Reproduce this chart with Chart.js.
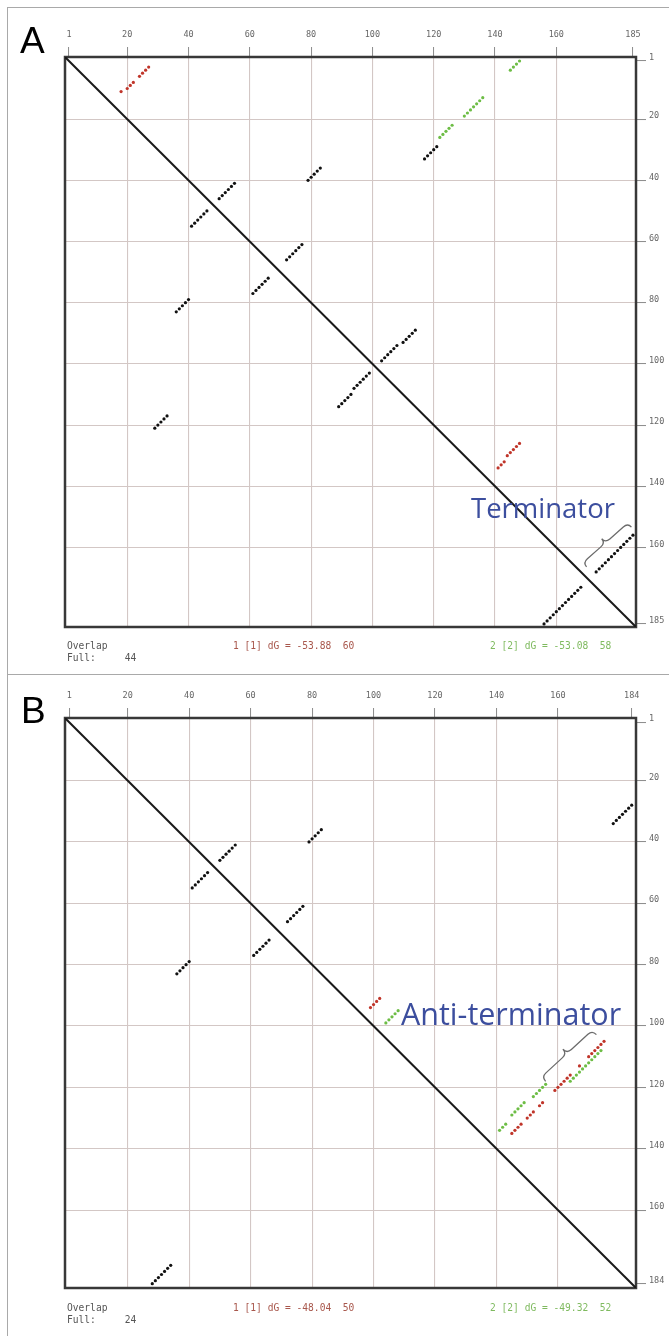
<!DOCTYPE html>
<html>
<head>
<meta charset="utf-8">
<script src="https://cdn.jsdelivr.net/npm/chart.js@4.4.1/dist/chart.umd.min.js"></script>
<style>
  body { margin: 0; background: #fff; }
  #page { position: relative; width: 669px; height: 1336px; overflow: hidden; background: #fff; }
  canvas { position: absolute; left: 0; }
  .rule { position: absolute; background: #a9a9a9; }
  .tag { position: absolute; font-family: 'Liberation Sans', Arial, sans-serif; font-size: 37px; line-height: 37px; color: #000; }
  .info { position: absolute; font-family: 'DejaVu Sans Mono', monospace; font-size: 9.6px; line-height: 12.3px; white-space: pre; color: #555; }
  .red { color: #a8574c; }
  .green { color: #7fba5f; }
  .note { position: absolute; font-family: 'Open Sans', sans-serif; color: #3c4e9e; line-height: 1; white-space: nowrap; }
  svg { position: absolute; left: 0; top: 0; }
</style>
</head>
<body>
<div id="page">
  <div class="rule" style="left:7px;top:7px;width:1px;height:1329px"></div>
  <div class="rule" style="left:7px;top:7px;width:662px;height:1px"></div>
  <div class="rule" style="left:7px;top:674px;width:662px;height:1px"></div>

  <canvas id="chartA" width="669" height="674" style="top:0"></canvas>
  <canvas id="chartB" width="669" height="662" style="top:674px"></canvas>

  <div class="tag" style="left:20px;top:22px">A</div>
  <div class="tag" style="left:21px;top:692px">B</div>

  <div class="info" style="left:67px;top:640px">Overlap
Full:     44</div>
  <div class="info red" style="left:233px;top:640px">1 [1] dG = -53.88  60</div>
  <div class="info green" style="left:490px;top:640px">2 [2] dG = -53.08  58</div>

  <div class="info" style="left:67px;top:1302px">Overlap
Full:     24</div>
  <div class="info red" style="left:233px;top:1302px">1 [1] dG = -48.04  50</div>
  <div class="info green" style="left:490px;top:1302px">2 [2] dG = -49.32  52</div>

  <div class="note" style="left:471px;top:494px;font-size:27.5px">Terminator</div>
  <div class="note" style="left:401px;top:998px;font-size:30.5px">Anti-terminator</div>

  <svg width="669" height="1336">
    <path id="braceA" fill="none" stroke="#6b6b6b" stroke-width="1.3"/>
    <path id="braceB" fill="none" stroke="#6b6b6b" stroke-width="1.3"/>
  </svg>
</div>

<script>
// tick labels
const ticksA = [1, 20, 40, 60, 80, 100, 120, 140, 160, 185];
const ticksB = [1, 20, 40, 60, 80, 100, 120, 140, 160, 184];

// axis ranges (sequence positions)
const rangeA = [-0.3, 186];
const rangeB = [-0.4, 185.4];

// panel A: [i, j] base pairs
const blackA = [
    [79, 40], [80, 39], [81, 38], [82, 37], [83, 36],
    [36, 83], [37, 82], [38, 81], [39, 80], [40, 79],
    [50, 46], [51, 45], [52, 44], [53, 43], [54, 42], [55, 41],
    [41, 55], [42, 54], [43, 53], [44, 52], [45, 51], [46, 50],
    [72, 66], [73, 65], [74, 64], [75, 63], [76, 62], [77, 61],
    [61, 77], [62, 76], [63, 75], [64, 74], [65, 73], [66, 72],
    [117, 33], [118, 32], [119, 31], [120, 30], [121, 29],
    [29, 121], [30, 120], [31, 119], [32, 118], [33, 117],
    [103, 99], [104, 98], [105, 97], [106, 96], [107, 95], [108, 94],
    [94, 108], [95, 107], [96, 106], [97, 105], [98, 104], [99, 103],
    [110, 93], [111, 92], [112, 91], [113, 90], [114, 89],
    [89, 114], [90, 113], [91, 112], [92, 111], [93, 110],
    [173, 168], [174, 167], [175, 166], [176, 165], [177, 164], [178, 163], [179, 162],
    [180, 161], [181, 160], [182, 159], [183, 158], [184, 157], [185, 156],
    [156, 185], [157, 184], [158, 183], [159, 182], [160, 181], [161, 180], [162, 179],
    [163, 178], [164, 177], [165, 176], [166, 175], [167, 174], [168, 173]
];
const redA = [
    [18, 11], [20, 10], [21, 9], [22, 8], [24, 6], [25, 5], [26, 4], [27, 3],
    [141, 134], [142, 133], [143, 132],
    [144, 130], [145, 129], [146, 128], [147, 127], [148, 126]
];
const greenA = [
    [122, 26], [123, 25], [124, 24], [125, 23], [126, 22],
    [130, 19], [131, 18], [132, 17], [133, 16], [134, 15], [135, 14], [136, 13],
    [145, 4], [146, 3], [147, 2], [148, 1]
];

// panel B
const blackB = [
    [79, 40], [80, 39], [81, 38], [82, 37], [83, 36],
    [36, 83], [37, 82], [38, 81], [39, 80], [40, 79],
    [50, 46], [51, 45], [52, 44], [53, 43], [54, 42], [55, 41],
    [41, 55], [42, 54], [43, 53], [44, 52], [45, 51], [46, 50],
    [72, 66], [73, 65], [74, 64], [75, 63], [76, 62], [77, 61],
    [61, 77], [62, 76], [63, 75], [64, 74], [65, 73], [66, 72],
    [178, 34], [179, 33], [180, 32], [181, 31], [182, 30], [183, 29], [184, 28],
    [28, 184], [29, 183], [30, 182], [31, 181], [32, 180], [33, 179], [34, 178]
];
const redB = [
    [99, 94], [100, 93], [101, 92], [102, 91],
    [145, 135], [146, 134], [147, 133], [148, 132],
    [150, 130], [151, 129], [152, 128],
    [154, 126], [155, 125],
    [159, 121], [160, 120], [161, 119], [162, 118], [163, 117], [164, 116],
    [167, 113],
    [170, 110], [171, 109], [172, 108], [173, 107], [174, 106], [175, 105]
];
const greenB = [
    [104, 99], [105, 98], [106, 97], [107, 96], [108, 95],
    [141, 134], [142, 133], [143, 132],
    [145, 129], [146, 128], [147, 127], [148, 126], [149, 125],
    [152, 123], [153, 122], [154, 121], [155, 120], [156, 119],
    [164, 118], [165, 117], [166, 116], [167, 115], [168, 114], [169, 113],
    [170, 112], [171, 111], [172, 110], [173, 109], [174, 108]
];

function pts(list) {
    return list.map(p => ({ x: p[0], y: p[1] }));
}

// kotak hitam di sekeliling area plot
const framePlugin = {
    id: 'frame',
    beforeDatasetsDraw(chart) {
        const { ctx, chartArea: a } = chart;
        ctx.save();
        ctx.strokeStyle = '#383838';
        ctx.lineWidth = 2.5;
        ctx.strokeRect(a.left, a.top, a.right - a.left, a.bottom - a.top);
        ctx.restore();
    }
};

function axis(ticks, range, extra) {
    const last = ticks[ticks.length - 1];
    return Object.assign({
        type: 'linear',
        min: range[0],
        max: range[1],
        afterBuildTicks: s => { s.ticks = ticks.map(v => ({ value: v })); },
        border: { display: false },
        grid: {
            color: c => (c.tick && (c.tick.value === 1 || c.tick.value === last)) ? 'rgba(0,0,0,0)' : '#d3c7c5',
            lineWidth: 1.1,
            tickLength: 10,
            tickColor: '#8a8a8a',
            tickWidth: 1
        },
        ticks: {
            autoSkip: false,
            maxRotation: 0,
            color: '#666',
            font: { family: 'DejaVu Sans Mono', size: 8.5 }
        }
    }, extra);
}

function buildChart(id, o) {
    const dot = { pointRadius: 1.6, borderWidth: 0, pointHoverRadius: 1.6 };
    return new Chart(document.getElementById(id), {
        type: 'scatter',
        data: {
            datasets: [
                Object.assign({ data: pts(o.black), backgroundColor: '#111' }, dot),
                Object.assign({ data: pts(o.red), backgroundColor: '#c0352a' }, dot),
                Object.assign({ data: pts(o.green), backgroundColor: '#6dbd45' }, dot),
                {
                    data: pts([[o.range[0], o.range[0]], [o.range[1], o.range[1]]]),
                    showLine: true,
                    borderColor: '#1a1a1a',
                    borderWidth: 2,
                    pointRadius: 0
                }
            ]
        },
        options: {
            responsive: false,
            animation: false,
            devicePixelRatio: 1,
            events: [],
            layout: { padding: { left: 65, right: 0, top: 0, bottom: o.padBottom } },
            plugins: { legend: { display: false }, tooltip: { enabled: false } },
            scales: {
                x: axis(o.ticks, o.range, {
                    position: 'top',
                    afterFit: s => { s.height = o.topH; }
                }),
                y: axis(o.ticks, o.range, {
                    position: 'right',
                    reverse: true,
                    afterFit: s => { s.width = 33; }
                })
            }
        },
        plugins: [framePlugin]
    });
}

const chartA = buildChart('chartA', { black: blackA, red: redA, green: greenA, ticks: ticksA, range: rangeA, topH: 57, padBottom: 47 });
const chartB = buildChart('chartB', { black: blackB, red: redB, green: greenB, ticks: ticksB, range: rangeB, topH: 44, padBottom: 48 });

// label kanan sedikit di atas garis tick, label atas agak naik
[chartA, chartB].forEach(ch => {
    ch.options.scales.y.ticks.labelOffset = -3;
    ch.options.scales.y.ticks.padding = 3;
    ch.options.scales.x.ticks.padding = 7;
    ch.update('none');
});

// kurung kurawal anotasi
function bracePath(len, depth) {
    const h = len / 2, m = depth / 2;
    return `M ${-h} 0 Q ${-h} ${-m} ${-h + 6} ${-m} L -6 ${-m} Q 0 ${-m} 0 ${-depth} ` +
           `Q 0 ${-m} 6 ${-m} L ${h - 6} ${-m} Q ${h} ${-m} ${h} 0`;
}
function placeBrace(id, cx, cy, len, depth, angle) {
    const el = document.getElementById(id);
    el.setAttribute('d', bracePath(len, depth));
    el.setAttribute('transform', `translate(${cx} ${cy}) rotate(${angle})`);
}
placeBrace('braceA', 609, 547, 60, 11, -41.6);
placeBrace('braceB', 571, 1058, 69, 12, -42.6);
</script>
</body>
</html>
